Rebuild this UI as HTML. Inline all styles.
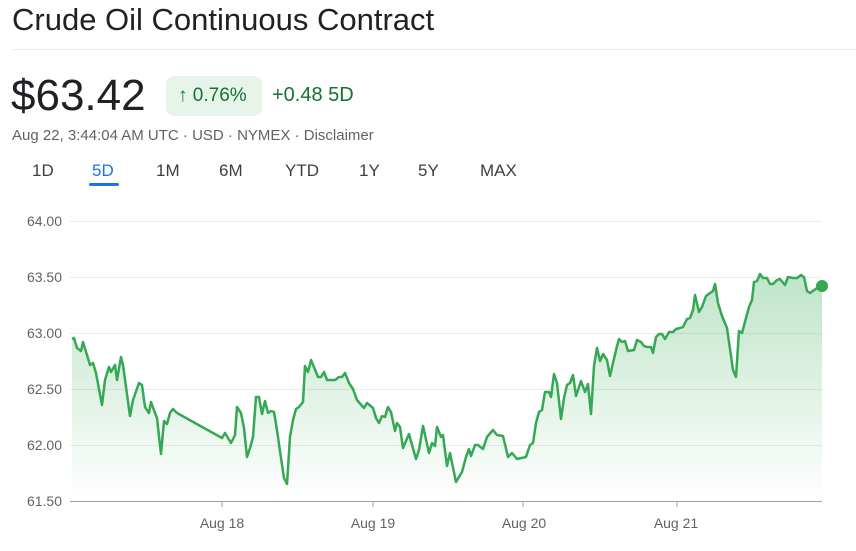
<!DOCTYPE html>
<html><head><meta charset="utf-8"><style>
body{margin:0;width:856px;height:551px;background:#fff;font-family:"Liberation Sans",Arial,sans-serif;position:relative;overflow:hidden}
.a{position:absolute;white-space:nowrap}
</style></head><body>
<div class="a" style="left:12px;top:2px;font-size:31px;color:#202124">Crude Oil Continuous Contract</div>
<div class="a" style="left:12px;top:49px;width:844px;height:1px;background:#e8eaed"></div>
<div class="a" style="left:11px;top:71px;font-size:44px;color:#202124">$63.42</div>
<div class="a" style="left:166px;top:76px;width:96px;height:40px;border-radius:8px;background:#e6f4ea"></div>
<div class="a" style="left:178px;top:85px;font-size:19px;color:#137333">↑ 0.76%</div>
<div class="a" style="left:272px;top:84px;font-size:20px;color:#137333">+0.48 5D</div>
<div class="a" style="left:12px;top:127px;font-size:15px;color:#5f6368">Aug 22, 3:44:04 AM UTC · USD · NYMEX · Disclaimer</div>
<div class="a" style="top:161px;left:0;font-size:17px;color:#3c4043">
<span class="a" style="left:32px">1D</span><span class="a" style="left:92px;color:#1a73e8">5D</span><span class="a" style="left:156px">1M</span><span class="a" style="left:219px">6M</span><span class="a" style="left:285px">YTD</span><span class="a" style="left:359px">1Y</span><span class="a" style="left:418px">5Y</span><span class="a" style="left:480px">MAX</span></div>
<div class="a" style="left:89px;top:183px;width:30px;height:3px;border-radius:2px;background:#1a73e8"></div>
<svg class="a" style="left:0;top:0" width="856" height="551">
<defs><linearGradient id="g" x1="0" x2="0" y1="270" y2="501" gradientUnits="userSpaceOnUse"><stop offset="0" stop-color="#34a853" stop-opacity="0.32"/><stop offset="1" stop-color="#34a853" stop-opacity="0"/></linearGradient></defs>
<g stroke="#ebebeb" stroke-width="1"><line x1="70" x2="822" y1="221.5" y2="221.5"/><line x1="70" x2="822" y1="277.5" y2="277.5"/><line x1="70" x2="822" y1="333.5" y2="333.5"/><line x1="70" x2="822" y1="389.5" y2="389.5"/><line x1="70" x2="822" y1="445.5" y2="445.5"/></g>
<g font-size="14" fill="#5f6368" text-anchor="end"><text x="62" y="226">64.00</text><text x="62" y="282">63.50</text><text x="62" y="338">63.00</text><text x="62" y="394">62.50</text><text x="62" y="450">62.00</text><text x="62" y="506">61.50</text></g>
<g font-size="14" fill="#5f6368" text-anchor="middle"><text x="222" y="528">Aug 18</text><text x="373" y="528">Aug 19</text><text x="524" y="528">Aug 20</text><text x="676" y="528">Aug 21</text></g>
<path d="M72,339 L74,338 77,348 81,351 83,342 87,355 90,365 93,363 96,373 102,405 105,380 109,367 111,372 115,365 117,380 121,357 123,365 130,416 133,400 139,383 142,385 145,407 149,413 151,402 155,413 157,418 161,454 164,421 167,424 170,413 173,409 177,413 222,438 225,433 231,443 235,435 237,407 241,413 244,428 247,457 250,448 253,437 256,397 259,397 262,414 265,401 268,413 271,411 274,412 277,430 281,458 284,478 287,484 290,437 293,420 296,409 299,407 303,402 305,366 308,372 311,360 318,377 321,377 324,372 327,380 335,380 339,377 342,377 345,373 349,383 353,389 357,400 364,408 367,403 373,408 376,418 379,423 382,416 385,417 388,407 391,412 395,431 397,423 400,427 403,448 409,434 416,459 419,450 423,426 429,453 432,443 435,446 437,427 441,437 443,435 447,466 450,453 456,482 462,472 466,457 469,449 471,456 475,445 478,445 483,449 487,437 493,430 497,435 503,436 508,457 512,453 517,459 526,457 530,445 533,443 536,423 539,412 542,410 545,392 549,392 551,397 554,374 557,383 561,419 564,398 567,385 570,383 573,375 576,396 581,381 585,392 588,384 591,414 594,366 597,348 600,361 603,354 607,360 610,376 613,363 617,346 619,339 622,342 625,341 628,351 634,350 637,340 641,342 644,346 647,347 651,347 653,353 656,337 659,334 662,334 665,339 669,332 673,332 676,329 680,328 683,327 687,319 690,318 693,310 695,295 699,312 702,307 706,296 710,293 713,291 715,284 718,303 722,316 727,328 733,370 736,377 739,331 742,333 749,307 752,300 754,282 757,281 760,274 763,278 767,278 770,284 773,284 777,280 780,279 785,285 788,277 793,278 797,278 801,275 804,277 807,291 810,293 817,288 822,286 L822,501 72,501Z" fill="url(#g)"/>
<path d="M72,339 L74,338 77,348 81,351 83,342 87,355 90,365 93,363 96,373 102,405 105,380 109,367 111,372 115,365 117,380 121,357 123,365 130,416 133,400 139,383 142,385 145,407 149,413 151,402 155,413 157,418 161,454 164,421 167,424 170,413 173,409 177,413 222,438 225,433 231,443 235,435 237,407 241,413 244,428 247,457 250,448 253,437 256,397 259,397 262,414 265,401 268,413 271,411 274,412 277,430 281,458 284,478 287,484 290,437 293,420 296,409 299,407 303,402 305,366 308,372 311,360 318,377 321,377 324,372 327,380 335,380 339,377 342,377 345,373 349,383 353,389 357,400 364,408 367,403 373,408 376,418 379,423 382,416 385,417 388,407 391,412 395,431 397,423 400,427 403,448 409,434 416,459 419,450 423,426 429,453 432,443 435,446 437,427 441,437 443,435 447,466 450,453 456,482 462,472 466,457 469,449 471,456 475,445 478,445 483,449 487,437 493,430 497,435 503,436 508,457 512,453 517,459 526,457 530,445 533,443 536,423 539,412 542,410 545,392 549,392 551,397 554,374 557,383 561,419 564,398 567,385 570,383 573,375 576,396 581,381 585,392 588,384 591,414 594,366 597,348 600,361 603,354 607,360 610,376 613,363 617,346 619,339 622,342 625,341 628,351 634,350 637,340 641,342 644,346 647,347 651,347 653,353 656,337 659,334 662,334 665,339 669,332 673,332 676,329 680,328 683,327 687,319 690,318 693,310 695,295 699,312 702,307 706,296 710,293 713,291 715,284 718,303 722,316 727,328 733,370 736,377 739,331 742,333 749,307 752,300 754,282 757,281 760,274 763,278 767,278 770,284 773,284 777,280 780,279 785,285 788,277 793,278 797,278 801,275 804,277 807,291 810,293 817,288 822,286" fill="none" stroke="#34a853" stroke-width="2.5" stroke-linejoin="round"/>
<line x1="70" x2="822" y1="501.5" y2="501.5" stroke="#9aa0a6"/>
<g stroke="#9aa0a6"><line x1="222" x2="222" y1="501" y2="507"/><line x1="373" x2="373" y1="501" y2="507"/><line x1="523" x2="523" y1="501" y2="507"/><line x1="677" x2="677" y1="501" y2="507"/></g>
<circle cx="822" cy="286" r="6" fill="#34a853"/>
</svg>
</body></html>
